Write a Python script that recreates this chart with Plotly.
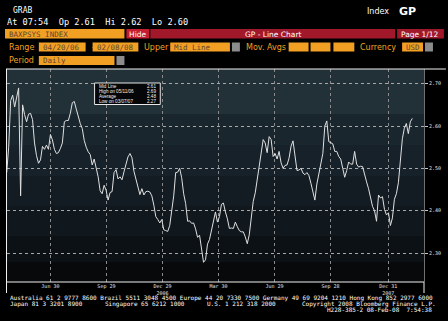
import plotly.graph_objects as go
import pandas as pd

# ---- data ----
start_date = "2006-04-20"
end_date = "2008-02-08"
values = [
    2.49, 2.55, 2.66, 2.673, 2.645, 2.665, 2.69, 2.435, 2.65, 2.627,
    2.61, 2.628, 2.63, 2.615, 2.56, 2.53, 2.512, 2.52, 2.552, 2.545,
    2.555, 2.545, 2.58, 2.567, 2.545, 2.535, 2.537, 2.547, 2.56, 2.61,
    2.613, 2.613, 2.63, 2.655, 2.658, 2.64, 2.62, 2.606, 2.594, 2.566,
    2.55, 2.539, 2.533, 2.508, 2.522, 2.50, 2.48, 2.447, 2.44, 2.46,
    2.448, 2.425, 2.443, 2.445, 2.49, 2.497, 2.475, 2.48, 2.473, 2.492,
    2.51, 2.527, 2.535, 2.525, 2.493, 2.475, 2.45, 2.438, 2.452, 2.437,
    2.445, 2.446, 2.444, 2.435, 2.413, 2.386, 2.379, 2.371, 2.379, 2.355,
    2.353, 2.351, 2.365, 2.396, 2.435, 2.49, 2.491, 2.50, 2.478, 2.44,
    2.417, 2.375, 2.376, 2.37, 2.371, 2.357, 2.337, 2.342, 2.31, 2.278,
    2.284, 2.321, 2.332, 2.355, 2.382, 2.397, 2.373, 2.386, 2.415, 2.418,
    2.397, 2.381, 2.358, 2.359, 2.358, 2.373, 2.362, 2.353, 2.35, 2.35,
    2.338, 2.322, 2.343, 2.388, 2.422, 2.442, 2.474, 2.495, 2.53, 2.568,
    2.56, 2.537, 2.575, 2.568, 2.528, 2.535, 2.522, 2.54, 2.513, 2.50,
    2.507, 2.508, 2.524, 2.552, 2.565, 2.53, 2.495, 2.496, 2.50, 2.489,
    2.485, 2.49, 2.483, 2.465, 2.443, 2.425, 2.463, 2.485, 2.512, 2.535,
    2.60, 2.612, 2.563, 2.56, 2.558, 2.54, 2.54, 2.528, 2.522, 2.50,
    2.479, 2.495, 2.515, 2.51, 2.51, 2.54, 2.51, 2.503, 2.505, 2.504,
    2.484, 2.468, 2.452, 2.433, 2.41, 2.40, 2.375, 2.437, 2.43, 2.433,
    2.403, 2.39, 2.395, 2.365, 2.383, 2.427, 2.44, 2.466, 2.527, 2.57,
    2.595, 2.606, 2.582, 2.61, 2.618,
]
dates = pd.date_range(start_date, end_date, periods=len(values))

x_tick_dates = ["2006-06-30", "2006-09-29", "2006-12-29", "2007-03-30",
                "2007-06-29", "2007-09-28", "2007-12-31"]
x_tick_labels = ["Jun 30", "Sep 29", "Dec 29<br>2006", "Mar 30",
                 "Jun 29", "Sep 28", "Dec 31<br>2007"]
y_ticks = [2.30, 2.40, 2.50, 2.60, 2.70]
y_tick_labels = ["2.30", "2.40", "2.50", "2.60", "2.70"]

legend_labels = ["Mid Line", "High on 05/11/06", "Average", "Low on 03/07/07"]
legend_values = ["2.61", "2.69", "2.48", "2.27"]

# ---- layout helpers (pixel -> paper) ----
L, R, T, B = 7, 426, 69, 282
def px(x):
    return (x - L) / (R - L)
def py(y):
    return (B - y) / (B - T)

MONO = "DejaVu Sans Mono"
ORANGE = "#f2a024"
BOXTXT = "#5e4630"

fig = go.Figure()
fig.add_trace(go.Scatter(x=dates, y=values, mode="lines",
                         line=dict(color="#e0e0e0", width=1),
                         hoverinfo="skip"))

shapes = []
annots = []

def rect(x0, y0, x1, y1, fill, line=None, layer="above"):
    shapes.append(dict(type="rect", xref="paper", yref="paper",
                       x0=px(x0), x1=px(x1), y0=py(y1), y1=py(y0),
                       fillcolor=fill, layer=layer,
                       line=dict(width=1 if line else 0, color=line or fill)))

def hline(x0, x1, y, color, width=1):
    shapes.append(dict(type="line", xref="paper", yref="paper",
                       x0=px(x0), x1=px(x1), y0=py(y), y1=py(y),
                       line=dict(color=color, width=width)))

def vline(x, y0, y1, color, width=1):
    shapes.append(dict(type="line", xref="paper", yref="paper",
                       x0=px(x), x1=px(x), y0=py(y0), y1=py(y1),
                       line=dict(color=color, width=width)))

def text(x, y, s, size=8, color="white", anchor="left", family=MONO, bold=False):
    if bold:
        s = "<b>" + s + "</b>"
    annots.append(dict(xref="paper", yref="paper", x=px(x), y=py(y), text=s,
                       showarrow=False, xanchor=anchor, yanchor="middle",
                       font=dict(size=size, color=color, family=family)))

# background bands in plot area
bands = [(69, 114, "#223138"), (114, 145, "#19262e"), (145, 176, "#16212a"),
         (176, 206, "#131c23"), (206, 236, "#10171d"), (236, 262, "#0c1115"),
         (262, 282, "#07090a")]
for y0, y1, c in bands:
    rect(L, y0, R, y1, c, layer="below")

# frame lines
hline(L - 1, 448, T, "#f0f0f0")
vline(L - 0.5, T, 293, "#f0f0f0")
hline(L, R, B, "#f0f0f0")
vline(R, B, 293, "#f0f0f0")

# header
text(11, 10.5, "GRAB", size=8)
text(5, 22, "At 07:54  Op 2.61  Hi 2.62  Lo 2.60", size=8.6)
text(367, 11, "Index", size=8, family="DejaVu Sans")
text(399, 11, "GP", size=11, family="DejaVu Sans", bold=True)

# row 1
rect(5, 29, 125, 38.5, ORANGE)
text(7, 34, "BAXPSYS INDEX", size=7.5, color=BOXTXT)
rect(127, 29, 150, 38.5, "#c41e30")
text(138.5, 34, "Hide", size=7.5, anchor="center", family="DejaVu Sans")
rect(151, 29, 397, 38.5, "#a1182b")
text(274, 34, "GP - Line Chart", size=7.5, anchor="center", family="DejaVu Sans")
rect(399, 29, 446, 38.5, "#a1182b")
text(422, 34, "Page 1/12", size=7.5, anchor="center", family="DejaVu Sans")

# row 2
text(7, 47, "Range", size=8, color=ORANGE, family="DejaVu Sans")
rect(39, 42.5, 86, 51.5, ORANGE)
text(41, 47, "04/20/06", size=7.5, color=BOXTXT)
text(89, 47, "-", size=8, color=ORANGE)
rect(93, 42.5, 139, 51.5, ORANGE)
text(95, 47, "02/08/08", size=7.5, color=BOXTXT)
text(143, 47, "Upper", size=8, color=ORANGE, family="DejaVu Sans")
rect(171, 42.5, 231, 51.5, ORANGE)
text(173, 47, "Mid Line", size=7.5, color=BOXTXT)
rect(233, 42.5, 241, 51.5, "#8c8c8c")
text(245, 47, "Mov. Avgs", size=8, color=ORANGE, family="DejaVu Sans")
rect(290, 42.5, 310, 51.5, ORANGE)
rect(312, 42.5, 332, 51.5, ORANGE)
rect(335, 42.5, 356, 51.5, ORANGE)
text(360, 47, "Currency", size=8, color=ORANGE, family="DejaVu Sans")
rect(404, 42.5, 425, 51.5, ORANGE)
text(406, 47, "USD", size=7.5, color=BOXTXT)
rect(427, 42.5, 435, 51.5, "#8c8c8c")

# row 3
text(7, 60.5, "Period", size=8, color=ORANGE, family="DejaVu Sans")
rect(39, 56, 115, 65, ORANGE)
text(41, 60.5, "Daily", size=7.5, color=BOXTXT)
rect(117, 56, 125, 65, "#8c8c8c")

# legend box inside chart
rect(95, 83, 161, 104.5, "#050607", line="#e8e8e8")
for i, (lab, val) in enumerate(zip(legend_labels, legend_values)):
    yy = 86.5 + i * 5
    text(97, yy, lab, size=4.6, color="#f0f0f0", family="Liberation Sans")
    text(159, yy, val, size=4.6, color="#f0f0f0", anchor="right", family="Liberation Sans")

# footer
text(8, 297.5, "Australia 61 2 9777 8600 Brazil 5511 3048 4500 Europe 44 20 7330 7500 "
     "Germany 49 69 9204 1210 Hong Kong 852 2977 6000", size=6)
text(8, 303.5, "Japan 81 3 3201 8900", size=6)
text(103, 303.5, "Singapore 65 6212 1000", size=6)
text(206, 303.5, "U.S. 1 212 318 2000", size=6)
text(301, 303.5, "Copyright 2008 Bloomberg Finance L.P.", size=6)
text(436, 309.5, "H228-385-2 08-Feb-08  7:54:38", size=6, anchor="right")

fig.update_layout(
    width=448, height=321,
    margin=dict(l=L, r=448 - R, t=T, b=321 - B),
    paper_bgcolor="black", plot_bgcolor="black",
    showlegend=False,
    shapes=shapes, annotations=annots,
    xaxis=dict(type="date", range=["2006-04-20T12:00", "2008-02-27"],
               tickvals=x_tick_dates, ticktext=x_tick_labels,
               showgrid=True, gridcolor="#8a8a8a", griddash="dot", gridwidth=1,
               tickfont=dict(size=5, color="#e8e8e8", family=MONO),
               ticks="", showline=False, zeroline=False, fixedrange=True),
    yaxis=dict(side="right", range=[2.2315, 2.7347],
               tickvals=y_ticks, ticktext=y_tick_labels,
               showgrid=True, gridcolor="#a8a8a8", griddash="dot", gridwidth=1,
               ticks="outside", ticklen=3, tickcolor="#c8c8c8",
               tickfont=dict(size=5, color="#e8e8e8", family=MONO),
               showline=True, linecolor="#707070", zeroline=False, fixedrange=True),
)

fig.write_html("out.html", config={"displayModeBar": False})
